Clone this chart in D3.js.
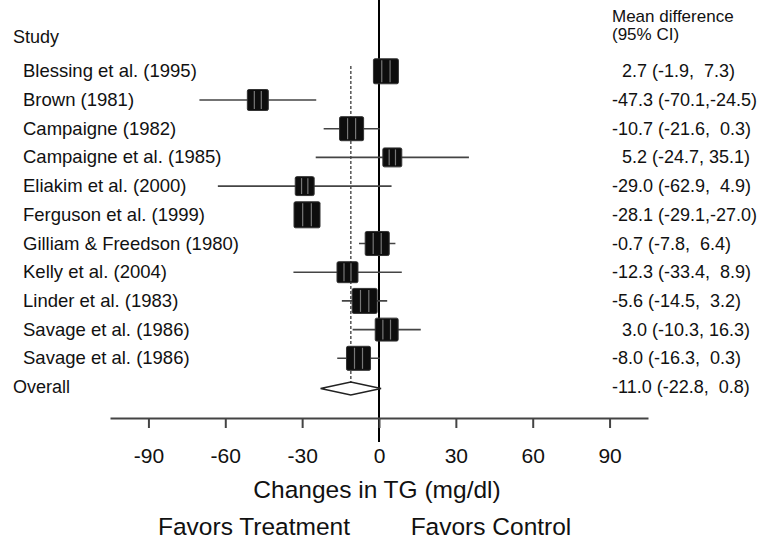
<!DOCTYPE html>
<html>
<head>
<meta charset="utf-8">
<script src="https://cdn.jsdelivr.net/npm/d3@7"></script>
<style>
  body { margin: 0; background: #fff; }
  svg text { font-family: "Liberation Sans", Arial, sans-serif; fill: #111; white-space: pre; }
</style>
</head>
<body>
<svg id="canvas" width="765" height="542"></svg>
<script>
let studies = ['Blessing et al. (1995)', 'Brown (1981)', 'Campaigne (1982)', 'Campaigne et al. (1985)',
    'Eliakim et al. (2000)', 'Ferguson et al. (1999)', 'Gilliam & Freedson (1980)', 'Kelly et al. (2004)',
    'Linder et al. (1983)', 'Savage et al. (1986)', 'Savage et al. (1986)']
let means = [2.7, -47.3, -10.7, 5.2, -29.0, -28.1, -0.7, -12.3, -5.6, 3.0, -8.0]
let lower = [-1.9, -70.1, -21.6, -24.7, -62.9, -29.1, -7.8, -33.4, -14.5, -10.3, -16.3]
let upper = [7.3, -24.5, 0.3, 35.1, 4.9, -27.0, 6.4, 8.9, 3.2, 16.3, 0.3]
// relative weight (%) read from square areas
let weights = [10.8, 7.6, 10.0, 6.2, 6.2, 11.7, 10.0, 7.6, 10.8, 9.1, 10.0]

let overall = {label: 'Overall', mean: -11.0, lower: -22.8, upper: 0.8}
let ticks = [-90, -60, -30, 0, 30, 60, 90]

let canvas = d3.select('#canvas')

let x = d3.scaleLinear().domain([-105, 105]).range([110, 648])
let y = d3.scaleLinear().domain([0, 11]).range([71.3, 387])
let side = d3.scaleSqrt().domain([0, d3.max(weights)]).range([0, 26])

// plain hyphen minus, like the original
let f = v => v.toFixed(1)
let fmtMean = v => v < 0 ? f(v) : '  ' + f(v)
let ciText = (m, lo, hi) => `${fmtMean(m)} (${f(lo)},${f(hi).padStart(5, ' ')})`

// headers
canvas.append('text').attr('x', 13).attr('y', 43).style('font-size', '18px').text('Study')
canvas.append('text').attr('x', 612).attr('y', 22).style('font-size', '17px').text('Mean difference')
canvas.append('text').attr('x', 612).attr('y', 40).style('font-size', '17px').text('(95% CI)')

// reference lines
canvas.append('line')
    .attr('x1', x(0)).attr('x2', x(0))
    .attr('y1', 0).attr('y2', 442)
    .attr('stroke', '#000').attr('stroke-width', 2)

canvas.append('line')
    .attr('x1', x(overall.mean)).attr('x2', x(overall.mean))
    .attr('y1', 66).attr('y2', 396)
    .attr('stroke', '#555').attr('stroke-width', 1.5)
    .attr('stroke-dasharray', '3,2')

let rows = studies.map((s, i) => ({label: s, mean: means[i], lower: lower[i], upper: upper[i], w: weights[i], i: i}))

let g = canvas.selectAll('g.row')
    .data(rows)
    .enter()
    .append('g')
    .attr('class', 'row')

g.append('line')
    .attr('x1', d => x(d.lower)).attr('x2', d => x(d.upper))
    .attr('y1', d => y(d.i)).attr('y2', d => y(d.i))
    .attr('stroke', '#444').attr('stroke-width', 1.6)

g.append('rect')
    .attr('x', d => x(d.mean) - side(d.w) / 2)
    .attr('y', d => y(d.i) - side(d.w) / 2)
    .attr('width', d => side(d.w))
    .attr('height', d => side(d.w))
    .attr('rx', 1.5)
    .attr('fill', '#0d0d0d')
    .attr('stroke', '#333').attr('stroke-width', 1)

// faint vertical stripes seen inside the squares
g.each(function (d) {
    let s = side(d.w)
    let cx = x(d.mean)
    d3.select(this).selectAll('line.stripe')
        .data([-s / 6, s / 6])
        .enter()
        .append('line')
        .attr('class', 'stripe')
        .attr('x1', o => cx + o).attr('x2', o => cx + o)
        .attr('y1', y(d.i) - s / 2 + 1.5).attr('y2', y(d.i) + s / 2 - 1.5)
        .attr('stroke', '#777').attr('stroke-width', 1.2)
})

g.append('text')
    .attr('x', 23).attr('y', d => y(d.i) + 6)
    .style('font-size', '18.5px')
    .text(d => d.label)

g.append('text')
    .attr('x', 612).attr('y', d => y(d.i) + 6)
    .style('font-size', '18px')
    .text(d => ciText(d.mean, d.lower, d.upper))

// overall diamond
let oy = y(11) + 1.5
canvas.append('path')
    .attr('d', `M${x(overall.lower)},${oy} L${x(overall.mean)},${oy - 6.5} L${x(overall.upper)},${oy} L${x(overall.mean)},${oy + 6.5} Z`)
    .attr('fill', '#fff').attr('stroke', '#222').attr('stroke-width', 1.5)

canvas.append('text').attr('x', 13).attr('y', y(11) + 6).style('font-size', '18px').text(overall.label)
canvas.append('text').attr('x', 612).attr('y', y(11) + 6).style('font-size', '18px')
    .text(ciText(overall.mean, overall.lower, overall.upper))

// axis
let axis = canvas.append('g')
    .attr('transform', 'translate(0,418)')
    .call(d3.axisBottom(x).tickValues(ticks).tickSize(10).tickSizeOuter(0).tickPadding(20).tickFormat(d => String(d)))

axis.select('.domain').attr('stroke', '#444').attr('stroke-width', 2)
axis.selectAll('.tick line').attr('stroke', '#444').attr('stroke-width', 2)
axis.selectAll('.tick text')
    .style('font-family', '"Liberation Sans", Arial, sans-serif')
    .style('font-size', '21px')
    .attr('fill', '#111')

canvas.append('text')
    .attr('x', 377).attr('y', 498)
    .attr('text-anchor', 'middle')
    .style('font-size', '24.5px')
    .text('Changes in TG (mg/dl)')

canvas.append('text')
    .attr('x', 254).attr('y', 535)
    .attr('text-anchor', 'middle')
    .style('font-size', '24.5px')
    .text('Favors Treatment')

canvas.append('text')
    .attr('x', 491).attr('y', 535)
    .attr('text-anchor', 'middle')
    .style('font-size', '24.5px')
    .text('Favors Control')
</script>
</body>
</html>
